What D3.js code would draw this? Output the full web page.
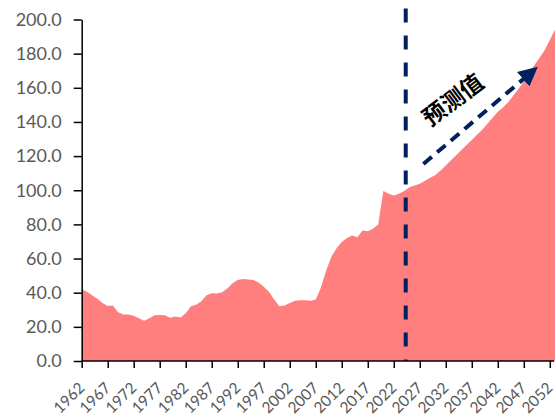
<!DOCTYPE html>
<html>
<head>
<meta charset="utf-8">
<script src="https://cdn.jsdelivr.net/npm/d3@7"></script>
<style>
  body { margin: 0; background: #fff; }
  svg { display: block; }
</style>
</head>
<body>
<div id="chart"></div>
<script>
// years 1962..2053
const years = d3.range(1962, 2054)
const values = [
    42, 40.5, 38.5, 36.5, 34, 32.2, 32.5, 28.5, 27.2, 27.2,      // 1962-1971
    26.5, 25, 23.5, 25, 26.8, 27, 26.8, 25.3, 26, 25.5,          // 1972-1981
    28, 32, 33, 35, 38.5, 39.7, 39.5, 40.3, 42.5, 45.5,          // 1982-1991
    47.5, 48, 47.8, 47.5, 46, 43.5, 40.5, 36, 32, 32.5,          // 1992-2001
    34, 35.3, 35.6, 35.6, 35.3, 36, 43, 53, 61, 66,              // 2002-2011
    69.7, 72, 73.5, 72.5, 76.5, 76, 77.5, 80, 99.5, 98,          // 2012-2021
    96.9, 98, 99.5, 101.8, 102.8, 103.8, 105.5, 107.3, 109, 111.5, // 2022-2031
    114.5, 117.5, 120.5, 123.5, 126.5, 129.5, 132.5, 135.5, 139, 142.5, // 2032-2041
    146, 148.5, 151.5, 155.5, 159.5, 163.5, 168.5, 173, 177.5, 182, // 2042-2051
    188, 194                                                     // 2052-2053
]
const yTicks = [0, 20, 40, 60, 80, 100, 120, 140, 160, 180, 200]
const xTickYears = d3.range(1962, 2053, 5)
const forecastYear = 2024.3
const forecastLabel = "预测值"
const arrowFrom = [2027.7, 115.4]
const arrowTo = [2049.5, 171.8]

const data = years.map((yr, i) => ({ year: yr, value: values[i] }))

const width = 556
const height = 419
const navy = "#002060"

const svg = d3.select("#chart").append("svg")
    .attr("width", width)
    .attr("height", height)

const x = d3.scaleLinear()
    .domain([1962, 2053])
    .range([81.7, 555])

const y = d3.scaleLinear()
    .domain([0, 200])
    .range([361, 19.5])

const area = d3.area()
    .x(d => x(d.year))
    .y0(y(0))
    .y1(d => y(d.value))

svg.append("path")
    .datum(data)
    .attr("fill", "#ff7f7f")
    .attr("d", area)

// forecast divider
svg.append("line")
    .attr("x1", x(forecastYear))
    .attr("x2", x(forecastYear))
    .attr("y1", y(206.5))
    .attr("y2", y(0))
    .attr("stroke", navy)
    .attr("stroke-width", 4)
    .attr("stroke-dasharray", "14,13")

// arrow
svg.append("defs").append("marker")
    .attr("id", "head")
    .attr("viewBox", "0 0 10 10")
    .attr("refX", 2)
    .attr("refY", 5)
    .attr("markerWidth", 4.8)
    .attr("markerHeight", 4.8)
    .attr("orient", "auto")
    .append("path")
    .attr("d", "M0,0L10,5L0,10Z")
    .attr("fill", navy)

const ax1 = x(arrowFrom[0]), ay1 = y(arrowFrom[1])
const ax2 = x(arrowTo[0]), ay2 = y(arrowTo[1])
const ang = Math.atan2(ay2 - ay1, ax2 - ax1)
const back = 14
svg.append("line")
    .attr("x1", ax1)
    .attr("y1", ay1)
    .attr("x2", ax2 - back * Math.cos(ang))
    .attr("y2", ay2 - back * Math.sin(ang))
    .attr("stroke", navy)
    .attr("stroke-width", 4)
    .attr("stroke-dasharray", "11,7")
    .attr("marker-end", "url(#head)")

svg.append("text")
    .attr("transform", "translate(453,100) rotate(-37)")
    .attr("text-anchor", "middle")
    .attr("dy", "0.35em")
    .attr("font-family", "'Noto Sans CJK SC', sans-serif")
    .attr("font-weight", "bold")
    .attr("font-size", 23)
    .attr("fill", "#000")
    .text(forecastLabel)

// y axis
const yAxis = svg.append("g")
    .attr("transform", `translate(${x(1962)},0)`)
    .call(d3.axisLeft(y).tickValues(yTicks).tickFormat(d3.format(".1f")).tickSize(8).tickSizeOuter(0).tickPadding(12))
yAxis.select(".domain").attr("stroke", "#000").attr("stroke-width", 1.5)
yAxis.selectAll(".tick line").attr("stroke", "#000").attr("stroke-width", 1.5)
yAxis.selectAll(".tick text")
    .attr("fill", "#595959")
    .attr("font-family", "Lato, 'Open Sans', sans-serif")
    .attr("font-size", 18)

// x axis
const xAxis = svg.append("g")
    .attr("transform", `translate(0,${y(0)})`)
    .call(d3.axisBottom(x).tickValues(xTickYears).tickFormat(d3.format("d")).tickSize(7).tickSizeOuter(0))
xAxis.select(".domain").attr("stroke", "#000").attr("stroke-width", 1.5)
    .attr("d", `M${x(1962)},0H${width - 2}`)
xAxis.selectAll(".tick line").attr("stroke", "#000").attr("stroke-width", 1.5)
xAxis.selectAll(".tick text")
    .attr("fill", "#595959")
    .attr("font-family", "Lato, 'Open Sans', sans-serif")
    .attr("font-size", 15.5)
    .attr("text-anchor", "end")
    .attr("dy", "0.35em")
    .attr("transform", "translate(-0.5,24) rotate(-45)")
    .attr("x", 0)
    .attr("y", 0)
</script>
</body>
</html>
